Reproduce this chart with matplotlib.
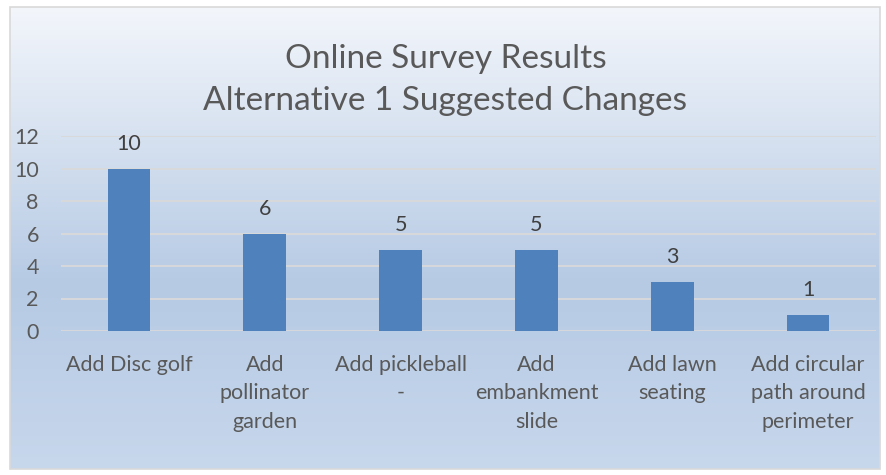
import matplotlib
matplotlib.use("Agg")
import matplotlib.pyplot as plt
import numpy as np
from matplotlib.colors import LinearSegmentedColormap
from matplotlib.patches import Rectangle

categories = ["Add Disc golf", "Add\npollinator\ngarden", "Add pickleball\n-",
              "Add\nembankment\nslide", "Add lawn\nseating",
              "Add circular\npath around\nperimeter"]
values = [10, 6, 5, 5, 3, 1]
yticks = [0, 2, 4, 6, 8, 10, 12]
title = "Online Survey Results\nAlternative 1 Suggested Changes"

plt.rcParams['font.family'] = ['Lato', 'DejaVu Sans']
W, H = 887, 475
fig = plt.figure(figsize=(W/100, H/100), dpi=100)
fig.patch.set_facecolor('white')

# background gradient panel
bg = fig.add_axes([0, 0, 1, 1], zorder=0)
bg.set_xlim(0, W); bg.set_ylim(H, 0); bg.axis('off')
cmap = LinearSegmentedColormap.from_list('g', [(0, '#f3f6fb'), (0.6, '#b6cae4'), (1, '#c7d7ec')])
grad = np.linspace(0, 1, 256).reshape(-1, 1)
bg.imshow(grad, cmap=cmap, aspect='auto', extent=[10, 880, 469, 7], zorder=0)
bg.add_patch(Rectangle((10, 7), 870, 462, fill=False, edgecolor='#d9d9d9', lw=1.2, zorder=1))

# plot axes: x 61..876, y 136..331
ax = fig.add_axes([61/W, 1-331/H, (876-61)/W, (331-136)/H], zorder=2)
ax.patch.set_alpha(0)
x = np.arange(len(values))
bars = ax.bar(x, values, width=0.315, color='#4f81bd', zorder=3)
ax.set_xlim(-0.5, len(values)-0.5)
ax.set_ylim(0, 12)
ax.set_yticks(yticks)
ax.yaxis.grid(True, color='#d9d9d9', lw=1.3, zorder=0)
for s in ax.spines.values():
    s.set_visible(False)
ax.tick_params(axis='both', length=0, colors='#595959', labelsize=15.5)
ax.tick_params(axis='y', pad=16)
ax.tick_params(axis='x', pad=17)
ax.set_xticks(x)
ax.set_xticklabels(categories, linespacing=1.53)
for b, v in zip(bars, values):
    ax.annotate(str(v), (b.get_x()+b.get_width()/2, v), xytext=(0, 18),
                textcoords='offset points', ha='center', va='center',
                fontsize=15.5, color='#404040')

fig.text(0.5 + 2/W, 1-80/H, title, ha='center', va='center', fontsize=24,
         color='#595959', linespacing=1.5)

fig.savefig('out.png', dpi=100)
